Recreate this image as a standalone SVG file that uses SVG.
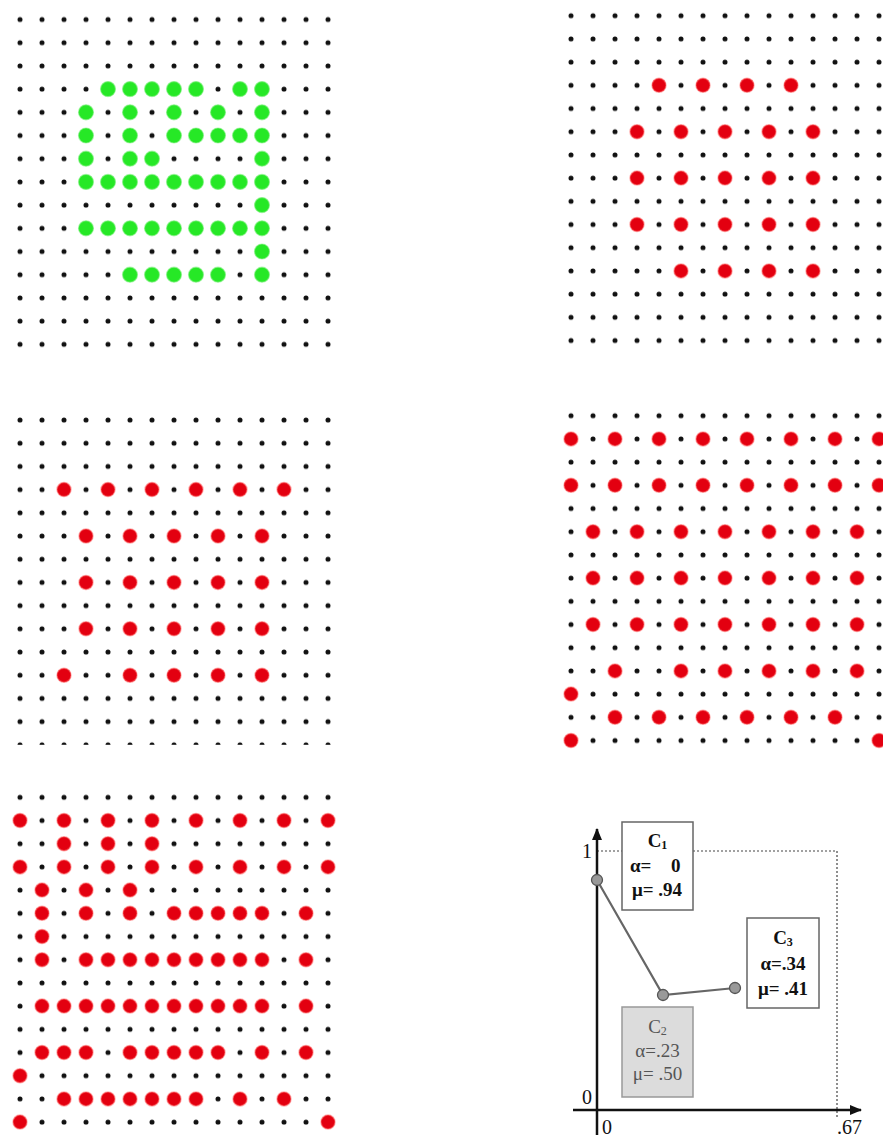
<svg xmlns="http://www.w3.org/2000/svg" width="883" height="1138" viewBox="0 0 883 1138">
<style>
.g{fill:#22e622}
.txt{font-family:"Liberation Serif","Times New Roman",serif}
.b{font-weight:bold;fill:#111;font-size:19px}
.gr{fill:#555;font-size:19px}
.ax{font-size:20px;fill:#111}
</style>
<defs>
<pattern id="grid" patternUnits="userSpaceOnUse" x="-11" y="-11.6" width="22" height="23.2">
<circle cx="11" cy="11.6" r="2.5" fill="#111"/>
</pattern>
<circle id="G" r="7.5" fill="#26e826" stroke="#7ef07e" stroke-opacity="0.6" stroke-width="1.2"/>
<circle id="R" r="7" fill="#e30010" stroke="#ff6060" stroke-opacity="0.5" stroke-width="1.5"/>
<marker id="arr" viewBox="0 0 12 10" refX="11" refY="5" markerWidth="12" markerHeight="10" markerUnits="userSpaceOnUse" orient="auto">
<path d="M0,0 L12,5 L0,10 Z" fill="#111"/>
</marker>
</defs>
<rect width="883" height="1138" fill="#fff"/>

<g id="panel1" transform="translate(20,19.5)">
<rect x="-11" y="-11.6" width="330" height="348" fill="url(#grid)"/>
<use href="#G" x="88" y="69.6"/><use href="#G" x="110" y="69.6"/><use href="#G" x="132" y="69.6"/><use href="#G" x="154" y="69.6"/><use href="#G" x="176" y="69.6"/><use href="#G" x="220" y="69.6"/><use href="#G" x="242" y="69.6"/>
<use href="#G" x="66" y="92.8"/><use href="#G" x="110" y="92.8"/><use href="#G" x="154" y="92.8"/><use href="#G" x="198" y="92.8"/><use href="#G" x="242" y="92.8"/>
<use href="#G" x="66" y="116"/><use href="#G" x="110" y="116"/><use href="#G" x="154" y="116"/><use href="#G" x="176" y="116"/><use href="#G" x="198" y="116"/><use href="#G" x="220" y="116"/><use href="#G" x="242" y="116"/>
<use href="#G" x="66" y="139.2"/><use href="#G" x="110" y="139.2"/><use href="#G" x="132" y="139.2"/><use href="#G" x="242" y="139.2"/>
<use href="#G" x="66" y="162.4"/><use href="#G" x="88" y="162.4"/><use href="#G" x="110" y="162.4"/><use href="#G" x="132" y="162.4"/><use href="#G" x="154" y="162.4"/><use href="#G" x="176" y="162.4"/><use href="#G" x="198" y="162.4"/><use href="#G" x="220" y="162.4"/><use href="#G" x="242" y="162.4"/>
<use href="#G" x="242" y="185.6"/>
<use href="#G" x="66" y="208.8"/><use href="#G" x="88" y="208.8"/><use href="#G" x="110" y="208.8"/><use href="#G" x="132" y="208.8"/><use href="#G" x="154" y="208.8"/><use href="#G" x="176" y="208.8"/><use href="#G" x="198" y="208.8"/><use href="#G" x="220" y="208.8"/><use href="#G" x="242" y="208.8"/>
<use href="#G" x="242" y="232"/>
<use href="#G" x="110" y="255.2"/><use href="#G" x="132" y="255.2"/><use href="#G" x="154" y="255.2"/><use href="#G" x="176" y="255.2"/><use href="#G" x="198" y="255.2"/><use href="#G" x="242" y="255.2"/>
</g>

<g id="panel2" transform="translate(571,15.7)">
<rect x="-11" y="-11.6" width="330" height="348" fill="url(#grid)"/>
<use href="#R" x="88" y="69.6"/><use href="#R" x="132" y="69.6"/><use href="#R" x="176" y="69.6"/><use href="#R" x="220" y="69.6"/>
<use href="#R" x="66" y="116"/><use href="#R" x="110" y="116"/><use href="#R" x="154" y="116"/><use href="#R" x="198" y="116"/><use href="#R" x="242" y="116"/>
<use href="#R" x="66" y="162.4"/><use href="#R" x="110" y="162.4"/><use href="#R" x="154" y="162.4"/><use href="#R" x="198" y="162.4"/><use href="#R" x="242" y="162.4"/>
<use href="#R" x="66" y="208.8"/><use href="#R" x="110" y="208.8"/><use href="#R" x="154" y="208.8"/><use href="#R" x="198" y="208.8"/><use href="#R" x="242" y="208.8"/>
<use href="#R" x="110" y="255.2"/><use href="#R" x="154" y="255.2"/><use href="#R" x="198" y="255.2"/><use href="#R" x="242" y="255.2"/>
</g>

<g id="panel3" transform="translate(20,420)">
<rect x="-11" y="-11.6" width="330" height="336.4" fill="url(#grid)"/>
<use href="#R" x="44" y="69.6"/><use href="#R" x="88" y="69.6"/><use href="#R" x="132" y="69.6"/><use href="#R" x="176" y="69.6"/><use href="#R" x="220" y="69.6"/><use href="#R" x="264" y="69.6"/>
<use href="#R" x="66" y="116"/><use href="#R" x="110" y="116"/><use href="#R" x="154" y="116"/><use href="#R" x="198" y="116"/><use href="#R" x="242" y="116"/>
<use href="#R" x="66" y="162.4"/><use href="#R" x="110" y="162.4"/><use href="#R" x="154" y="162.4"/><use href="#R" x="198" y="162.4"/><use href="#R" x="242" y="162.4"/>
<use href="#R" x="66" y="208.8"/><use href="#R" x="110" y="208.8"/><use href="#R" x="154" y="208.8"/><use href="#R" x="198" y="208.8"/><use href="#R" x="242" y="208.8"/>
<use href="#R" x="44" y="255.2"/><use href="#R" x="110" y="255.2"/><use href="#R" x="154" y="255.2"/><use href="#R" x="198" y="255.2"/><use href="#R" x="242" y="255.2"/>
</g>

<g id="panel4" transform="translate(571,415.7)">
<rect x="-11" y="-11.6" width="330" height="348" fill="url(#grid)"/>
<use href="#R" x="0" y="23.2"/><use href="#R" x="44" y="23.2"/><use href="#R" x="88" y="23.2"/><use href="#R" x="132" y="23.2"/><use href="#R" x="176" y="23.2"/><use href="#R" x="220" y="23.2"/><use href="#R" x="264" y="23.2"/><use href="#R" x="308" y="23.2"/>
<use href="#R" x="0" y="69.6"/><use href="#R" x="44" y="69.6"/><use href="#R" x="88" y="69.6"/><use href="#R" x="132" y="69.6"/><use href="#R" x="176" y="69.6"/><use href="#R" x="220" y="69.6"/><use href="#R" x="264" y="69.6"/><use href="#R" x="308" y="69.6"/>
<use href="#R" x="22" y="116"/><use href="#R" x="66" y="116"/><use href="#R" x="110" y="116"/><use href="#R" x="154" y="116"/><use href="#R" x="198" y="116"/><use href="#R" x="242" y="116"/><use href="#R" x="286" y="116"/>
<use href="#R" x="22" y="162.4"/><use href="#R" x="66" y="162.4"/><use href="#R" x="110" y="162.4"/><use href="#R" x="154" y="162.4"/><use href="#R" x="198" y="162.4"/><use href="#R" x="242" y="162.4"/><use href="#R" x="286" y="162.4"/>
<use href="#R" x="22" y="208.8"/><use href="#R" x="66" y="208.8"/><use href="#R" x="110" y="208.8"/><use href="#R" x="154" y="208.8"/><use href="#R" x="198" y="208.8"/><use href="#R" x="242" y="208.8"/><use href="#R" x="286" y="208.8"/>
<use href="#R" x="44" y="255.2"/><use href="#R" x="110" y="255.2"/><use href="#R" x="154" y="255.2"/><use href="#R" x="198" y="255.2"/><use href="#R" x="242" y="255.2"/><use href="#R" x="286" y="255.2"/>
<use href="#R" x="0" y="278.4"/>
<use href="#R" x="44" y="301.6"/><use href="#R" x="88" y="301.6"/><use href="#R" x="132" y="301.6"/><use href="#R" x="176" y="301.6"/><use href="#R" x="220" y="301.6"/><use href="#R" x="264" y="301.6"/>
<use href="#R" x="0" y="324.8"/><use href="#R" x="308" y="324.8"/>
</g>

<g id="panel5" transform="translate(20,797.3)">
<rect x="-11" y="-11.6" width="330" height="348" fill="url(#grid)"/>
<use href="#R" x="0" y="23.2"/><use href="#R" x="44" y="23.2"/><use href="#R" x="88" y="23.2"/><use href="#R" x="132" y="23.2"/><use href="#R" x="176" y="23.2"/><use href="#R" x="220" y="23.2"/><use href="#R" x="264" y="23.2"/><use href="#R" x="308" y="23.2"/>
<use href="#R" x="44" y="46.4"/><use href="#R" x="88" y="46.4"/><use href="#R" x="132" y="46.4"/>
<use href="#R" x="0" y="69.6"/><use href="#R" x="44" y="69.6"/><use href="#R" x="88" y="69.6"/><use href="#R" x="132" y="69.6"/><use href="#R" x="176" y="69.6"/><use href="#R" x="220" y="69.6"/><use href="#R" x="264" y="69.6"/><use href="#R" x="308" y="69.6"/>
<use href="#R" x="22" y="92.8"/><use href="#R" x="66" y="92.8"/><use href="#R" x="110" y="92.8"/>
<use href="#R" x="22" y="116"/><use href="#R" x="66" y="116"/><use href="#R" x="110" y="116"/><use href="#R" x="154" y="116"/><use href="#R" x="176" y="116"/><use href="#R" x="198" y="116"/><use href="#R" x="220" y="116"/><use href="#R" x="242" y="116"/><use href="#R" x="286" y="116"/>
<use href="#R" x="22" y="139.2"/>
<use href="#R" x="22" y="162.4"/><use href="#R" x="66" y="162.4"/><use href="#R" x="88" y="162.4"/><use href="#R" x="110" y="162.4"/><use href="#R" x="132" y="162.4"/><use href="#R" x="154" y="162.4"/><use href="#R" x="176" y="162.4"/><use href="#R" x="198" y="162.4"/><use href="#R" x="220" y="162.4"/><use href="#R" x="242" y="162.4"/><use href="#R" x="286" y="162.4"/>
<use href="#R" x="22" y="208.8"/><use href="#R" x="44" y="208.8"/><use href="#R" x="66" y="208.8"/><use href="#R" x="88" y="208.8"/><use href="#R" x="110" y="208.8"/><use href="#R" x="132" y="208.8"/><use href="#R" x="154" y="208.8"/><use href="#R" x="176" y="208.8"/><use href="#R" x="198" y="208.8"/><use href="#R" x="220" y="208.8"/><use href="#R" x="242" y="208.8"/><use href="#R" x="286" y="208.8"/>
<use href="#R" x="22" y="255.2"/><use href="#R" x="44" y="255.2"/><use href="#R" x="66" y="255.2"/><use href="#R" x="110" y="255.2"/><use href="#R" x="132" y="255.2"/><use href="#R" x="154" y="255.2"/><use href="#R" x="176" y="255.2"/><use href="#R" x="198" y="255.2"/><use href="#R" x="242" y="255.2"/><use href="#R" x="286" y="255.2"/>
<use href="#R" x="0" y="278.4"/>
<use href="#R" x="44" y="301.6"/><use href="#R" x="66" y="301.6"/><use href="#R" x="88" y="301.6"/><use href="#R" x="110" y="301.6"/><use href="#R" x="132" y="301.6"/><use href="#R" x="154" y="301.6"/><use href="#R" x="176" y="301.6"/><use href="#R" x="220" y="301.6"/><use href="#R" x="264" y="301.6"/>
<use href="#R" x="0" y="324.8"/><use href="#R" x="308" y="324.8"/>
</g>

<g id="chart-axes">
<polyline points="597,851 837,851 837,1118" fill="none" stroke="#444" stroke-width="1.2" stroke-dasharray="2,2"/>
<line x1="597" y1="1135" x2="597" y2="829" stroke="#111" stroke-width="2.5" marker-end="url(#arr)"/>
<line x1="573" y1="1110" x2="861" y2="1110" stroke="#111" stroke-width="2.5" marker-end="url(#arr)"/>
<text class="txt ax" x="582" y="858" font-size="18">1</text>
<text class="txt ax" x="582" y="1104">0</text>
<text class="txt ax" x="602" y="1134" font-size="19">0</text>
<text class="txt ax" x="837" y="1134" font-size="19">.67</text>
</g>

<g id="connectors">
<polyline points="597,880 663,995 735,988" fill="none" stroke="#666" stroke-width="2.2"/>
<circle cx="597" cy="880" r="5.5" fill="#999" stroke="#555" stroke-width="1.3"/>
<circle cx="663" cy="995" r="5.5" fill="#999" stroke="#555" stroke-width="1.3"/>
<circle cx="735" cy="988" r="5.5" fill="#999" stroke="#555" stroke-width="1.3"/>
</g>

<g id="C1">
<rect x="622" y="822" width="71" height="88" fill="#fff" stroke="#666" stroke-width="1.5"/>
<text class="txt b" x="657.5" y="847" text-anchor="middle">C<tspan font-size="12" dy="2">1</tspan></text>
<text class="txt b" y="872"><tspan x="630">α=</tspan><tspan x="671">0</tspan></text>
<text class="txt b" x="657" y="896" text-anchor="middle">μ= .94</text>
</g>

<g id="C2">
<rect x="622" y="1007" width="71" height="90" fill="#dcdcdc" stroke="#999" stroke-width="1.5"/>
<text class="txt gr" x="657.5" y="1033" text-anchor="middle">C<tspan font-size="12" dy="2">2</tspan></text>
<text class="txt gr" x="657.5" y="1057" text-anchor="middle">α=.23</text>
<text class="txt gr" x="657.5" y="1080" text-anchor="middle">μ= .50</text>
</g>

<g id="C3">
<rect x="747" y="918" width="72" height="90" fill="#fff" stroke="#666" stroke-width="1.5"/>
<text class="txt b" x="783" y="944" text-anchor="middle">C<tspan font-size="12" dy="2">3</tspan></text>
<text class="txt b" x="783" y="970" text-anchor="middle">α=.34</text>
<text class="txt b" x="783" y="995" text-anchor="middle">μ= .41</text>
</g>
</svg>
